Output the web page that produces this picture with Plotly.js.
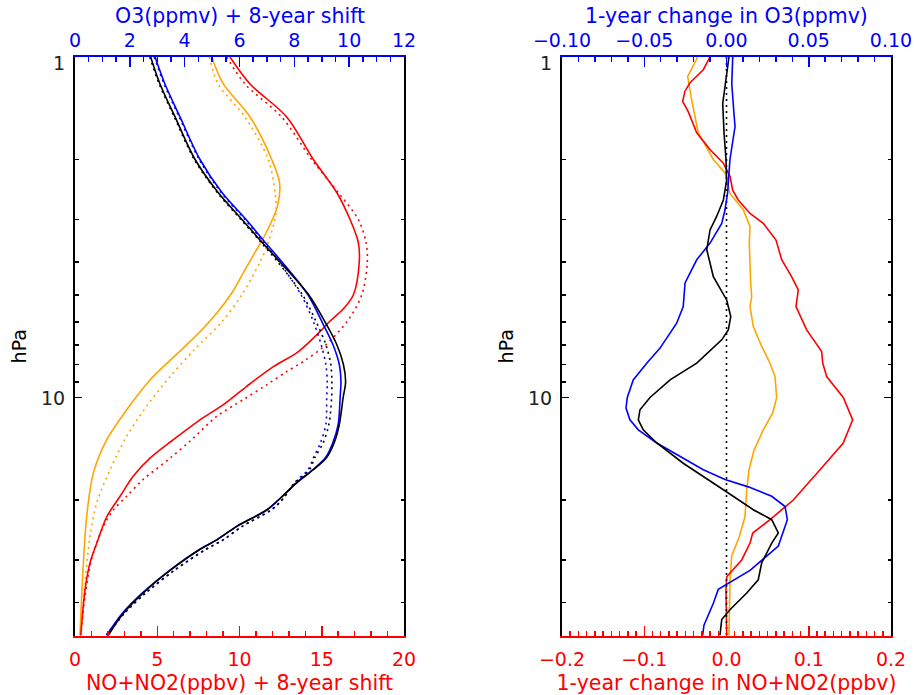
<!DOCTYPE html>
<html>
<head>
<meta charset="utf-8">
<script src="https://cdn.plot.ly/plotly-3.0.1.min.js"></script>
<style>html,body{margin:0;padding:0;background:#fff;}#chart{width:914px;height:695px;}</style>
</head>
<body>
<div id="chart"></div>
<script>
// ---------------- Left panel: profiles ----------------
// O3 (ppmv), top axis
const pO3L = [1, 1.2, 1.5, 2, 2.5, 3, 3.5, 4, 5, 6, 7, 8, 9, 10, 12, 13.6, 15, 16.3, 17.8, 20, 21.4, 23.9, 26.2, 27.9, 32.2, 37.5, 43.1, 50];
const o3BlackSolid = [2.76, 3.10, 3.65, 4.38, 5.22, 6.09, 6.82, 7.48, 8.53, 9.12, 9.55, 9.79, 9.87, 9.78, 9.64, 9.45, 9.18, 8.69, 8.09, 7.42, 6.99, 5.90, 5.17, 4.56, 3.47, 2.49, 1.76, 1.21];
const o3BlueSolid  = [2.92, 3.28, 3.83, 4.56, 5.36, 6.24, 6.93, 7.55, 8.50, 9.01, 9.41, 9.64, 9.70, 9.67, 9.60, 9.40, 9.14, 8.67, 8.07, 7.42, 6.99, 5.90, 5.17, 4.56, 3.45, 2.46, 1.72, 1.15];
const o3BlackDot   = [2.73, 3.07, 3.62, 4.35, 5.19, 6.05, 6.78, 7.40, 8.30, 8.80, 9.15, 9.33, 9.37, 9.36, 9.26, 9.05, 8.75, 8.55, 8.02, 7.55, 7.15, 6.10, 5.40, 4.78, 3.62, 2.58, 1.80, 1.17];
const o3BlueDot    = [2.89, 3.25, 3.80, 4.53, 5.33, 6.20, 6.88, 7.45, 8.25, 8.70, 8.98, 9.15, 9.20, 9.18, 9.15, 8.95, 8.70, 8.50, 8.00, 7.55, 7.15, 6.10, 5.40, 4.78, 3.62, 2.58, 1.78, 1.12];

// NO+NO2 (ppbv), bottom axis
const pOrangeSolid = [1, 1.2, 1.5, 2, 2.35, 2.75, 3.26, 3.68, 4.22, 4.94, 5.66, 6.41, 7.16, 8.88, 10.87, 13.3, 16.7, 22.4, 30.6, 50];
const noxOrangeSolid = [8.31, 9.02, 10.64, 11.96, 12.44, 12.30, 11.65, 11.04, 10.33, 9.52, 8.61, 7.60, 6.58, 4.56, 3.14, 1.93, 1.11, 0.71, 0.51, 0.30];
const pOrangeDot = [1, 1.2, 1.5, 2, 2.5, 2.87, 3.5, 4, 5, 6, 7.2, 8.68, 10.6, 13.0, 16.3, 20.4, 25.6, 35, 50];
const noxOrangeDot = [8.17, 8.70, 10.33, 11.75, 12.16, 12.22, 11.75, 11.25, 10.13, 8.92, 7.30, 5.78, 4.36, 3.14, 2.13, 1.32, 0.91, 0.61, 0.35];
const pRedSolid = [1, 1.2, 1.5, 2, 2.5, 3, 3.5, 4, 5, 5.5, 6, 6.33, 7.33, 8.12, 9.27, 10.5, 11.63, 13.3, 15.07, 17.0, 19.5, 22.4, 26.8, 30.6, 36.7, 50];
const noxRedSolid = [9.42, 10.64, 12.87, 14.49, 15.91, 16.72, 17.22, 17.28, 16.92, 16.30, 15.45, 15.0, 13.58, 12.06, 10.44, 9.02, 7.60, 5.98, 4.56, 3.55, 2.74, 1.93, 1.32, 0.91, 0.61, 0.35];
const pRedDot = [1, 1.2, 1.5, 2, 2.5, 3, 3.5, 4, 5, 6, 7.1, 7.84, 8.39, 9.18, 10.14, 11.37, 13.3, 15.07, 17.4, 19.5, 21.4, 23.4, 26.8, 30.6, 38.4, 50];
const noxRedDot = [9.22, 10.33, 12.56, 14.39, 16.0, 17.22, 17.69, 17.77, 17.43, 16.52, 15.10, 13.88, 12.87, 11.65, 10.23, 8.61, 7.09, 5.78, 4.15, 3.14, 2.33, 1.82, 1.32, 0.95, 0.61, 0.35];

// ---------------- Right panel: 1-year changes ----------------
const pBlueChg = [1, 1.2, 1.5, 1.6, 2, 2.5, 2.81, 3.08, 3.52, 3.94, 4.61, 5.41, 6.05, 7.16, 7.93, 8.88, 10.0, 10.74, 11.63, 12.44, 13.6, 14.9, 16.3, 17.4, 18.3, 19.5, 20.9, 22.85, 27.3, 32.2, 36.6, 40.2, 46.6, 50];
const o3BlueChg = [0.0038, 0.0032, 0.0047, 0.0052, 0.0021, 0.0007, -0.0009, -0.0029, -0.0100, -0.0181, -0.0252, -0.0263, -0.0303, -0.0404, -0.0485, -0.0567, -0.0603, -0.0611, -0.0587, -0.0536, -0.0424, -0.0283, -0.0141, -0.0009, 0.0133, 0.0275, 0.0356, 0.0370, 0.0315, 0.0143, -0.0050, -0.0080, -0.0137, -0.0145];
const pBlackChg = [1, 1.19, 1.37, 1.67, 2.0, 2.30, 2.63, 2.94, 3.22, 3.68, 4.42, 5.17, 5.78, 6.33, 6.77, 7.93, 8.88, 10.0, 10.87, 11.63, 12.44, 13.6, 15.6, 18.66, 21.36, 22.85, 25.0, 26.76, 30.6, 34.3, 37.5, 42, 44.9, 50];
const o3BlackChg = [0.0015, -0.0005, -0.0023, -0.0015, -0.0003, 0.0001, -0.0019, -0.0060, -0.0100, -0.0120, -0.0080, 0.0001, 0.0026, 0.0011, -0.0029, -0.0181, -0.0343, -0.0465, -0.0526, -0.0536, -0.0506, -0.0424, -0.0263, -0.0019, 0.0163, 0.0275, 0.0315, 0.0275, 0.0214, 0.0193, 0.0123, 0.0021, -0.0029, -0.0040];
const pOrangeChg = [1, 1.14, 1.34, 1.67, 2.0, 2.19, 2.52, 2.81, 3.15, 3.52, 4.61, 5.06, 5.41, 6.19, 7.08, 7.93, 8.68, 10.0, 11.1, 12.44, 14.3, 16.3, 18.66, 22.4, 25.6, 29.2, 34.3, 50];
const noxOrangeChg = [-0.0350, -0.0472, -0.0423, -0.0343, -0.0160, -0.0018, 0.0043, 0.0204, 0.0286, 0.0277, 0.0294, 0.0306, 0.0286, 0.0326, 0.0428, 0.0529, 0.0590, 0.0610, 0.0562, 0.0447, 0.0334, 0.0274, 0.0246, 0.0225, 0.0156, 0.0063, 0.0043, 0.0030];
const pRedChg = [1, 1.09, 1.19, 1.26, 1.35, 1.45, 1.67, 1.87, 2.05, 2.24, 2.46, 2.63, 2.88, 3.08, 3.45, 3.94, 4.42, 4.83, 5.41, 6.05, 6.33, 7.33, 7.93, 8.68, 10.0, 11.63, 13.6, 16.3, 20.0, 22.85, 25.0, 26.76, 30.0, 33.6, 36.7, 50];
const noxRedChg = [-0.0201, -0.0282, -0.0444, -0.0505, -0.0533, -0.0464, -0.0362, -0.0201, -0.0039, 0.0043, 0.0075, 0.0143, 0.0286, 0.0447, 0.0602, 0.0671, 0.0793, 0.0873, 0.0845, 0.0934, 0.0975, 0.1157, 0.1170, 0.1218, 0.1420, 0.1534, 0.1420, 0.1137, 0.0812, 0.0529, 0.0319, 0.0286, 0.0185, 0.0002, -0.0006, 0.0002];
const pZero = [1, 50];
const zeroVals = [0, 0];

// tick labels
const yTickVals = [1, 10];
const yTickText = ['1', '10'];
const yMinorVals = [2, 3, 4, 5, 6, 7, 8, 9, 20, 30, 40];
const topTitles = ['O3(ppmv) + 8-year shift', '1-year change in O3(ppmv)'];
const bottomTitles = ['NO+NO2(ppbv) + 8-year shift', '1-year change in NO+NO2(ppbv)'];

const BLUE = '#0000ff', RED = '#ff0000', ORANGE = '#ffa500', BLACK = '#000000';
const DOT = '2px,4px';
const LW = 1.6;

function tr(x, y, xa, ya, color, dash, smooth) {
  const line = {color: color, width: LW, dash: dash || 'solid'};
  if (smooth) { line.shape = 'spline'; line.smoothing = 0.9; }
  return {x: x, y: y, xaxis: xa, yaxis: ya, type: 'scatter', mode: 'lines',
    line: line, hoverinfo: 'skip', showlegend: false};
}

const data = [
  tr(noxOrangeDot, pOrangeDot, 'x', 'y', ORANGE, DOT, true),
  tr(noxRedDot, pRedDot, 'x', 'y', RED, DOT, true),
  tr(o3BlueDot, pO3L, 'x2', 'y', BLUE, DOT, true),
  tr(o3BlackDot, pO3L, 'x2', 'y', BLACK, DOT, true),
  tr(noxOrangeSolid, pOrangeSolid, 'x', 'y', ORANGE, null, true),
  tr(noxRedSolid, pRedSolid, 'x', 'y', RED, null, true),
  tr(o3BlueSolid, pO3L, 'x2', 'y', BLUE, null, true),
  tr(o3BlackSolid, pO3L, 'x2', 'y', BLACK, null, true),

  tr(zeroVals, pZero, 'x4', 'y2', BLACK, DOT),
  tr(noxOrangeChg, pOrangeChg, 'x3', 'y2', ORANGE),
  tr(noxRedChg, pRedChg, 'x3', 'y2', RED),
  tr(o3BlueChg, pBlueChg, 'x4', 'y2', BLUE),
  tr(o3BlackChg, pBlackChg, 'x4', 'y2', BLACK)
];

const FONT = 'DejaVu Sans';
const FS = 19;
const TFS = 20.5;
const W = 914, H = 695;
const xd1 = [75/W, 404/W];
const xd2 = [562/W, 891/W];
const yd = [1 - 635.5/H, 1 - 57/H];

function xAxis(domain, range, dtick, minorDtick, color, side, titleText, extra) {
  const top = side === 'top';
  const ax = {
    domain: domain, range: range, side: side, color: color,
    showline: true, linecolor: color, linewidth: 2,
    ticks: 'inside', ticklen: 10, tickwidth: 1.5, tickcolor: color,
    tickmode: 'linear', tick0: range[0], dtick: dtick,
    minor: {ticks: 'inside', ticklen: 5, tickwidth: 1.5, tickcolor: color, tickmode: 'linear', tick0: range[0], dtick: minorDtick, showgrid: false},
    tickfont: {family: FONT, size: FS, color: color},
    showgrid: false, zeroline: false, fixedrange: true,
    ticklabelstandoff: top ? 0 : 6
  };
  if (titleText) ax.title = {text: titleText, font: {family: FONT, size: TFS, color: color}, standoff: 7};
  return Object.assign(ax, extra);
}

function yAxis(domain, anchor) {
  return {
    domain: domain, anchor: anchor, type: 'log', range: [Math.log10(50), 0],
    showline: true, linecolor: BLACK, linewidth: 2, mirror: 'ticks',
    ticks: 'inside', ticklen: 7, tickwidth: 1.5, tickcolor: BLACK,
    tickmode: 'array', tickvals: yTickVals, ticktext: yTickText, showticklabels: false,
    minor: {ticks: 'inside', ticklen: 3.5, tickwidth: 1.5, tickcolor: BLACK, tickmode: 'array', tickvals: yMinorVals, showgrid: false},
    showgrid: false, zeroline: false, fixedrange: true,
    title: {text: 'hPa', font: {family: FONT, size: FS, color: BLACK}, standoff: 41}
  };
}

// y tick labels (drawn as annotations so the top "1" can sit just below the top axis, as in the original)
const annotations = [];
[['y', xd1[0]], ['y2', xd2[0]]].forEach(function (a) {
  yTickVals.forEach(function (v, i) {
    annotations.push({xref: 'paper', yref: a[0], x: a[1], y: Math.log10(v), text: yTickText[i],
      xanchor: 'right', yanchor: 'middle', xshift: -8, yshift: i === 0 ? -6 : 0, showarrow: false,
      font: {family: FONT, size: FS, color: '#222'}});
  });
});
[xd1, xd2].forEach(function (d, i) {
  annotations.push({xref: 'paper', yref: 'paper', x: (d[0] + d[1]) / 2, y: 1 - 30/H, text: topTitles[i],
    xanchor: 'center', yanchor: 'bottom', showarrow: false, font: {family: FONT, size: TFS, color: BLUE}});
});

const layout = {
  width: W, height: H,
  margin: {l: 0, r: 0, t: 0, b: 0},
  paper_bgcolor: '#ffffff', plot_bgcolor: '#ffffff',
  showlegend: false,
  font: {family: FONT, size: FS},
  xaxis: xAxis(xd1, [0, 20], 5, 1, RED, 'bottom', bottomTitles[0], {anchor: 'y'}),
  xaxis2: xAxis(xd1, [0, 12], 2, 0.5, BLUE, 'top', null, {anchor: 'y', overlaying: 'x'}),
  xaxis3: xAxis(xd2, [-0.2, 0.2], 0.1, 0.01, RED, 'bottom', bottomTitles[1], {anchor: 'y2', tickformat: '.1f'}),
  xaxis4: xAxis(xd2, [-0.1, 0.1], 0.05, 0.01, BLUE, 'top', null, {anchor: 'y2', overlaying: 'x3', tickformat: '.2f'}),
  yaxis: yAxis(yd, 'x'),
  yaxis2: yAxis(yd, 'x3'),
  annotations: annotations
};

Plotly.newPlot('chart', data, layout, {displayModeBar: false, staticPlot: true});
</script>
</body>
</html>
